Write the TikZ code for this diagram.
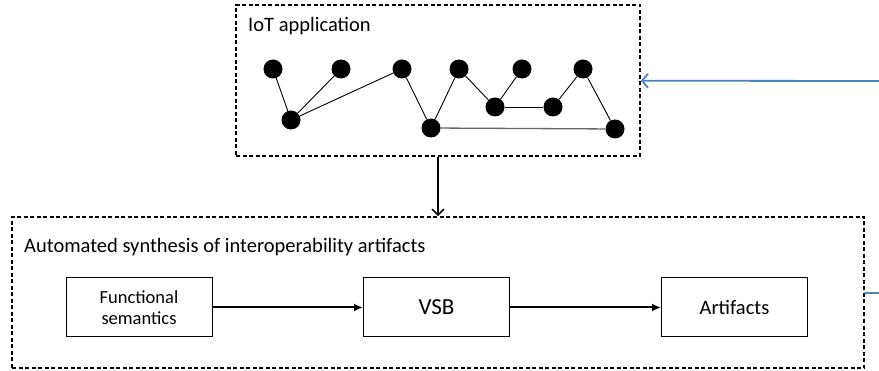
\documentclass[tikz,border=0pt]{standalone}
\usepackage{fontspec}
\setmainfont{Carlito}
\usetikzlibrary{arrows.meta}
\definecolor{linkblue}{HTML}{4F81BD}
\tikzset{
  dot/.style={circle,fill=black,inner sep=0pt,minimum size=19pt},
  edge/.style={line width=0.9pt,black},
  dashbox/.style={draw,line width=1.6pt,dash pattern=on 4pt off 2.5pt,inner sep=0pt},
  stepbox/.style={draw,line width=1pt,inner sep=0pt,minimum width=146pt,minimum height=59pt,align=center},
  flow/.style={line width=2pt,-{Latex[length=9pt,width=8pt]}},
  title/.style={inner sep=0pt,anchor=base west,font=\fontsize{20.5}{24}\selectfont}
}
\begin{document}
\begin{tikzpicture}[x=1pt,y=-1pt]
\useasboundingbox (0,0) rectangle (879,371);
% boxes
\node[dashbox,minimum width=404pt,minimum height=151pt] (topbox) at (438,80.5) {};
\node[dashbox,minimum width=852pt,minimum height=151pt] (botbox) at (438,292.5) {};
\node[title] (toplabel) at (248,31.5) {IoT application};
\node[title] (botlabel) at (24,253) {Automated synthesis of interoperability artifacts};
% graph
\node[dot] (n1) at (273,69) {};
\node[dot] (n2) at (341,69) {};
\node[dot] (n3) at (402,69) {};
\node[dot] (n4) at (459,69) {};
\node[dot] (n5) at (522,69) {};
\node[dot] (n6) at (583,69) {};
\node[dot] (n7) at (291,120) {};
\node[dot] (n8) at (431,128) {};
\node[dot] (n9) at (495,107) {};
\node[dot] (n10) at (553,107) {};
\node[dot] (n11) at (615,129) {};
\draw[edge] (n1) -- (n7);
\draw[edge] (n2) -- (n7);
\draw[edge] (n3) -- (n7);
\draw[edge] (n3) -- (n8);
\draw[edge] (n8) -- (n4);
\draw[edge] (n4) -- (n9);
\draw[edge] (n9) -- (n5);
\draw[edge] (n9) -- (n10);
\draw[edge] (n10) -- (n6);
\draw[edge] (n6) -- (n11);
\draw[line width=1.3pt,black!60] (n8) -- (n11);
% steps
\node[stepbox,font=\fontsize{18.5}{21.5}\selectfont] (fs) at (139,307.5) {Functional\\semantics};
\node[stepbox,font=\fontsize{23}{26}\selectfont] (vsb) at (436.5,307.5) {VSB};
\node[stepbox,font=\fontsize{20.5}{24}\selectfont] (art) at (734.5,307.5) {Artifacts};
\draw[flow] (fs) -- (vsb);
\draw[flow] (vsb) -- (art);
\draw[line width=1.6pt,-{Straight Barb[length=6pt,width=12pt]}] (topbox) -- (botbox);
% blue links
\coordinate (b1) at (879,81);
\coordinate (b2) at (879,293);
\draw[linkblue,line width=1.8pt,-{Straight Barb[length=6pt,width=14pt]}] (b1) -- (topbox);
\draw[linkblue,line width=1.8pt] (b2) -- (botbox);
\end{tikzpicture}
\end{document}
